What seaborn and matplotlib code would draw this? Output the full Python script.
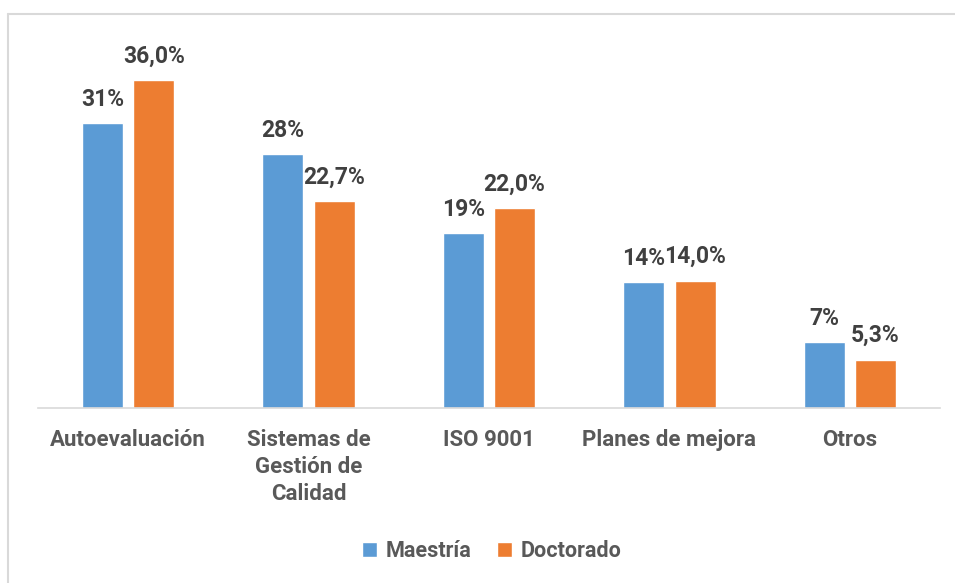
import matplotlib
matplotlib.use("Agg")
import matplotlib.pyplot as plt
import seaborn as sb
import pandas as pd
from matplotlib.lines import Line2D

categorias = ["Autoevaluación", "Sistemas de\nGestión de\nCalidad", "ISO 9001",
              "Planes de mejora", "Otros"]
maestria = [31.3, 27.9, 19.2, 13.8, 7.2]
doctorado = [36.0, 22.7, 22.0, 14.0, 5.3]
etiquetas_maestria = ["31%", "28%", "19%", "14%", "7%"]
etiquetas_doctorado = ["36,0%", "22,7%", "22,0%", "14,0%", "5,3%"]
series = ["Maestría", "Doctorado"]
colores = ["#5B9BD5", "#ED7D31"]

# long format for seaborn
df = pd.DataFrame({
    "categoria": categorias * 2,
    "valor": maestria + doctorado,
    "serie": [series[0]] * len(categorias) + [series[1]] * len(categorias),
})

sb.set_theme(style="white")
plt.rcParams["font.family"] = ["Roboto", "DejaVu Sans"]
plt.rcParams["font.weight"] = "bold"

fig = plt.figure(figsize=(9.55, 5.83), dpi=100)
ax = fig.add_axes([38 / 955, 175 / 583, 902 / 955, (408 - 44) / 583])

sb.barplot(data=df, x="categoria", y="valor", hue="serie", palette=colores,
           width=0.568, gap=0.2, ax=ax, saturation=1, legend=True)

for cont, labs in zip(ax.containers, [etiquetas_maestria, etiquetas_doctorado]):
    ax.bar_label(cont, labels=labs, padding=9, fontsize=16.5, fontweight="bold",
                 color="#404040")

ax.set_ylim(0, 40)
ax.set_xlim(-0.5, len(categorias) - 0.5)
ax.set_xlabel("")
ax.set_ylabel("")
ax.set_yticks([])
for s in ["top", "left", "right"]:
    ax.spines[s].set_visible(False)
ax.spines["bottom"].set_color("#D9D9D9")
ax.spines["bottom"].set_linewidth(1.2)
ax.tick_params(axis="x", length=0, pad=15, labelsize=16, labelcolor="#595959")
for t in ax.get_xticklabels():
    t.set_fontweight("bold")
    t.set_linespacing(1.3)

ax.legend(loc="center", bbox_to_anchor=(492 / 955, 32 / 583),
          bbox_transform=fig.transFigure, ncol=2, frameon=False,
          handlelength=0.7, handleheight=0.7,
          handletextpad=0.4, columnspacing=1.2,
          labelcolor="#595959", prop={"weight": "bold", "size": 15.5})

# only the top and left edges of the frame are visible in the reference
borde = dict(transform=fig.transFigure, color="#D9D9D9", linewidth=1.5)
fig.add_artist(Line2D([8 / 955, 1], [1 - 14 / 583, 1 - 14 / 583], **borde))
fig.add_artist(Line2D([8 / 955, 8 / 955], [0, 1 - 14 / 583], **borde))

fig.savefig("out.png", dpi=100)
